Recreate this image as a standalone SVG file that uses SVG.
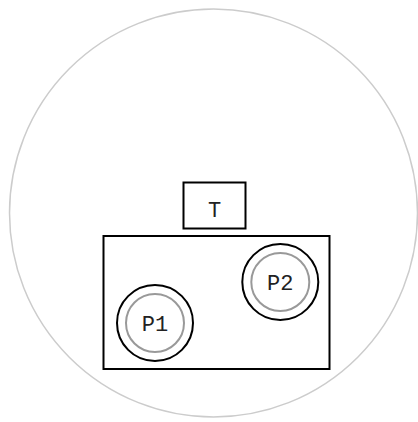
<svg xmlns="http://www.w3.org/2000/svg" width="418" height="422" viewBox="0 0 418 422">
<style>
.lbl{font-family:"Liberation Mono","Courier New",monospace;font-size:22px;fill:#222;text-anchor:middle}
.box{fill:none;stroke:#000;stroke-width:2}
.outer{fill:none;stroke:#000;stroke-width:2}
.inner{fill:none;stroke:#999;stroke-width:2}
</style>
<rect width="418" height="422" fill="#fff"/>
<circle cx="213.5" cy="213" r="204" fill="none" stroke="#ccc" stroke-width="1.5"/>
<g id="connectors"></g>
<g id="T">
<rect class="box" x="183.5" y="182.5" width="62" height="46"/>
<text class="lbl" x="214.5" y="217">T</text>
</g>
<g id="container">
<rect class="box" x="103.5" y="236" width="226" height="133"/>
</g>
<g id="P1">
<circle class="outer" cx="155" cy="323" r="38"/>
<circle class="inner" cx="155" cy="323" r="29"/>
<text class="lbl" x="155" y="331">P1</text>
</g>
<g id="P2">
<circle class="outer" cx="280.3" cy="282" r="38"/>
<circle class="inner" cx="280.3" cy="282" r="29"/>
<text class="lbl" x="280.3" y="290">P2</text>
</g>
</svg>
